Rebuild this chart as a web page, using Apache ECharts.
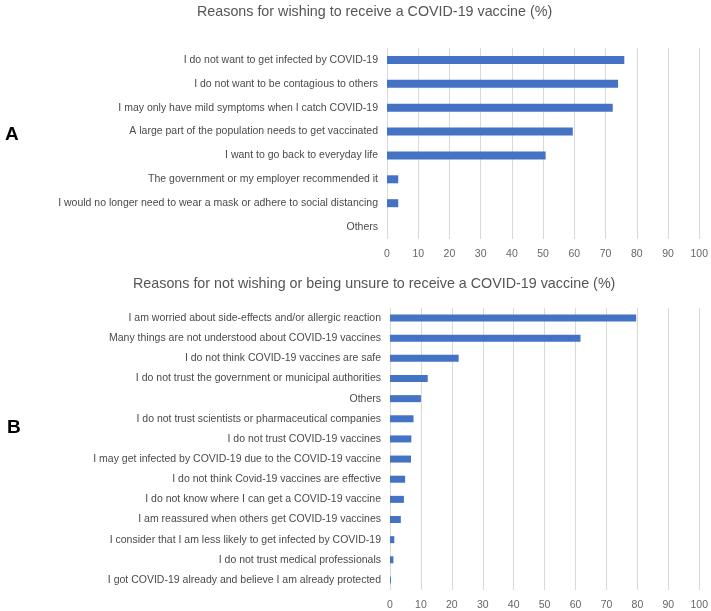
<!DOCTYPE html>
<html><head><meta charset="utf-8">
<script src="https://cdn.jsdelivr.net/npm/echarts@6/dist/echarts.min.js"></script>
<style>html,body{margin:0;padding:0;background:#fff}#c{width:711px;height:611px}</style>
</head><body><div id="c"></div>
<script>
const catsA = [
  "I do not want to get infected by COVID-19",
  "I do not want to be contagious to others",
  "I may only have mild symptoms when I catch COVID-19",
  "A large part of the population needs to get vaccinated",
  "I want to go back to everyday life",
  "The government or my employer recommended it",
  "I would no longer need to wear a mask or adhere to social distancing",
  "Others"
];
const valsA = [76.0, 74.0, 72.3, 59.5, 50.8, 3.6, 3.6, 0];

const catsB = [
  "I am worried about side-effects and/or allergic reaction",
  "Many things are not understood about COVID-19 vaccines",
  "I do not think COVID-19 vaccines are safe",
  "I do not trust the government or municipal authorities",
  "Others",
  "I do not trust scientists or pharmaceutical companies",
  "I do not trust COVID-19 vaccines",
  "I may get infected by COVID-19 due to the COVID-19 vaccine",
  "I do not think Covid-19 vaccines are effective",
  "I do not know where I can get a COVID-19 vaccine",
  "I am reassured when others get COVID-19 vaccines",
  "I consider that I am less likely to get infected by COVID-19",
  "I do not trust medical professionals",
  "I got COVID-19 already and believe I am already protected"
];
const valsB = [79.6, 61.6, 22.2, 12.2, 10.0, 7.6, 6.9, 6.8, 4.9, 4.5, 3.5, 1.4, 1.1, 0.3];

const xTicks = [0, 10, 20, 30, 40, 50, 60, 70, 80, 90, 100];

const FONT = "Liberation Sans, Arial, sans-serif";
const BLUE = "#4472c4";
const chart = echarts.init(document.getElementById('c'), null, {renderer: 'canvas'});

function xAxis(gi) {
  return {
    type: 'value', gridIndex: gi, min: xTicks[0], max: xTicks[xTicks.length - 1], interval: 10,
    axisLine: {show: false}, axisTick: {show: false},
    splitLine: {show: true, lineStyle: {color: '#d9d9d9', width: 1}},
    axisLabel: {color: '#666', fontSize: 10.5, fontFamily: FONT, margin: 10}
  };
}
function yAxis(gi, cats) {
  return {
    type: 'category', gridIndex: gi, data: cats, inverse: true,
    axisLine: {show: false}, axisTick: {show: false},
    axisLabel: {color: '#4a4a4a', fontSize: 10.5, fontFamily: FONT, margin: 9}
  };
}

chart.setOption({
  animation: false,
  title: [
    {text: 'Reasons for wishing to receive a COVID-19 vaccine (%)', left: 192, top: 0,
     textStyle: {color: '#555', fontSize: 14.3, fontWeight: 'normal', fontFamily: FONT}},
    {text: 'Reasons for not wishing or being unsure to receive a COVID-19 vaccine (%)', left: 128, top: 272,
     textStyle: {color: '#555', fontSize: 14.3, fontWeight: 'normal', fontFamily: FONT}},
    {text: 'A', left: 0, top: 120, textStyle: {color: '#000', fontSize: 19, fontWeight: 'bold', fontFamily: FONT}},
    {text: 'B', left: 2, top: 413, textStyle: {color: '#000', fontSize: 19, fontWeight: 'bold', fontFamily: FONT}}
  ],
  grid: [
    {left: 387, right: 9, top: 48, height: 191},
    {left: 390, right: 9, top: 308, height: 285}
  ],
  xAxis: [xAxis(0), xAxis(1)],
  yAxis: [yAxis(0, catsA), yAxis(1, catsB)],
  series: [
    {type: 'bar', xAxisIndex: 0, yAxisIndex: 0, data: valsA, barWidth: 8, itemStyle: {color: BLUE}},
    {type: 'bar', xAxisIndex: 1, yAxisIndex: 1, data: valsB, barWidth: 7, itemStyle: {color: BLUE}}
  ]
});
</script></body></html>
